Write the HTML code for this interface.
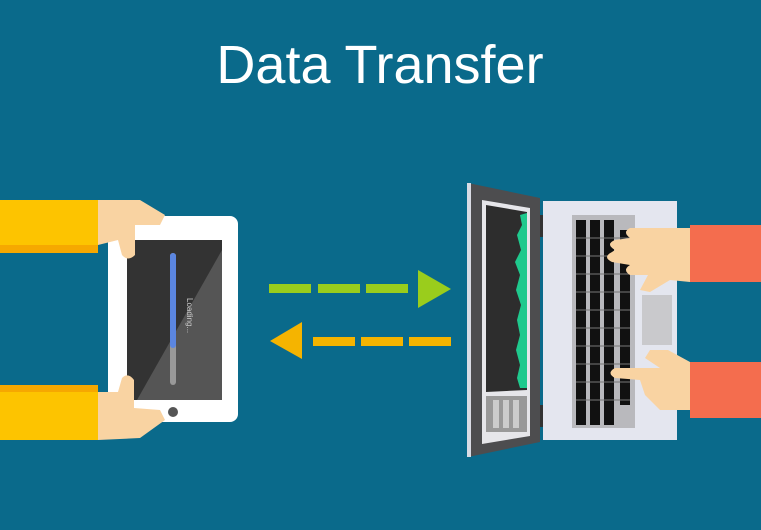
<!DOCTYPE html>
<html><head><style>
html,body{margin:0;padding:0;background:#0a6a8b;}
svg{display:block}
</style></head><body>
<svg width="761" height="530" viewBox="0 0 761 530" xmlns="http://www.w3.org/2000/svg">
<rect width="761" height="530" fill="#0a6a8b"/>
<text x="380" y="83" text-anchor="middle" font-family="Liberation Sans, sans-serif" font-size="54" fill="#fff">Data Transfer</text>

<!-- left yellow arms -->
<rect x="0" y="200" width="98" height="47" fill="#fdc400"/>
<rect x="0" y="245" width="98" height="8" fill="#f6a800"/>
<rect x="0" y="385" width="98" height="8" fill="#f6a800"/>
<rect x="0" y="392" width="98" height="48" fill="#fdc400"/>
<!-- tablet -->
<rect x="108" y="216" width="130" height="206" rx="8" fill="#fff"/>
<rect x="127" y="240" width="95" height="160" fill="#333"/>
<polygon points="222,250 222,400 137,400" fill="#555"/>
<rect x="170" y="253" width="6" height="132" rx="3" fill="#999"/>
<rect x="170" y="253" width="6" height="95" rx="3" fill="#5b86e0"/>
<text x="187" y="298" font-family="Liberation Sans, sans-serif" font-size="8" fill="#ccc" transform="rotate(90 187 298)">Loading...</text>
<circle cx="173" cy="412" r="5" fill="#555"/>
<!-- left hands -->
<path d="M98,200 L140,200 L165,215 L160,225 L135,225 L135,255 Q128,262 122,255 L118,240 L98,245 Z" fill="#f9d3a2"/>
<path d="M98,392 L118,392 L122,378 Q128,372 134,380 L134,408 L160,410 L165,420 L140,438 L98,440 Z" fill="#f9d3a2"/>

<!-- arrows -->
<rect x="269" y="284" width="42" height="9" fill="#9acd1c"/>
<rect x="318" y="284" width="42" height="9" fill="#9acd1c"/>
<rect x="366" y="284" width="42" height="9" fill="#9acd1c"/>
<polygon points="418,270 451,289 418,308" fill="#9acd1c"/>
<polygon points="302,322 270,341 302,359" fill="#f5b400"/>
<rect x="313" y="337" width="42" height="9" fill="#f5b400"/>
<rect x="361" y="337" width="42" height="9" fill="#f5b400"/>
<rect x="409" y="337" width="42" height="9" fill="#f5b400"/>

<!-- laptop lid -->
<polygon points="468,183 540,198 540,442 468,457" fill="#4d4d4f"/>
<rect x="467" y="183" width="4" height="274" fill="#d9dbe4"/>
<polygon points="482,200 530,208 530,436 482,444" fill="#e6e6ea"/>
<polygon points="486,205 527,212 527,390 486,392" fill="#2d2d2d"/>
<path d="M527,213 L520,215 L522,225 L517,235 L521,250 L515,262 L520,275 L516,290 L521,305 L517,320 L520,335 L516,350 L520,365 L517,378 L520,388 L527,388 Z" fill="#1fc98d"/>
<rect x="486" y="396" width="41" height="36" fill="#999"/>
<rect x="493" y="400" width="6" height="28" fill="#ccc"/>
<rect x="503" y="400" width="6" height="28" fill="#ccc"/>
<rect x="513" y="400" width="6" height="28" fill="#ccc"/>
<rect x="540" y="215" width="7" height="22" fill="#333"/>
<rect x="540" y="405" width="7" height="22" fill="#333"/>
<!-- base -->
<rect x="543" y="201" width="134" height="239" fill="#e4e6ef"/>
<rect x="572" y="215" width="63" height="213" fill="#b9b9bd"/>
<rect x="576" y="220" width="10" height="205" fill="#111"/>
<rect x="590" y="220" width="10" height="205" fill="#111"/>
<rect x="604" y="220" width="10" height="205" fill="#111"/>
<rect x="620" y="230" width="10" height="175" fill="#111"/>
<g stroke="#777" stroke-width="1">
<line x1="576" y1="238" x2="630" y2="238"/><line x1="576" y1="256" x2="630" y2="256"/>
<line x1="576" y1="274" x2="630" y2="274"/><line x1="576" y1="292" x2="630" y2="292"/>
<line x1="576" y1="310" x2="630" y2="310"/><line x1="576" y1="328" x2="630" y2="328"/>
<line x1="576" y1="346" x2="630" y2="346"/><line x1="576" y1="364" x2="630" y2="364"/>
<line x1="576" y1="382" x2="630" y2="382"/><line x1="576" y1="400" x2="630" y2="400"/>
</g>
<rect x="642" y="295" width="30" height="50" fill="#c9c9cc"/>
<!-- right hands -->
<path d="M690,228 L630,228 Q622,232 630,238 L615,240 Q605,244 615,250 L612,252 Q602,257 612,262 L630,265 Q622,270 630,275 L648,275 L640,290 L650,292 L670,280 L690,282 Z" fill="#f9d3a2"/>
<path d="M690,362 L668,350 L650,350 L645,358 L660,368 L615,368 Q606,373 615,378 L640,380 L645,395 L660,410 L690,410 Z" fill="#f9d3a2"/>
<rect x="690" y="225" width="71" height="57" fill="#f46d4e"/>
<rect x="690" y="362" width="71" height="56" fill="#f46d4e"/>
</svg>
</body></html>
